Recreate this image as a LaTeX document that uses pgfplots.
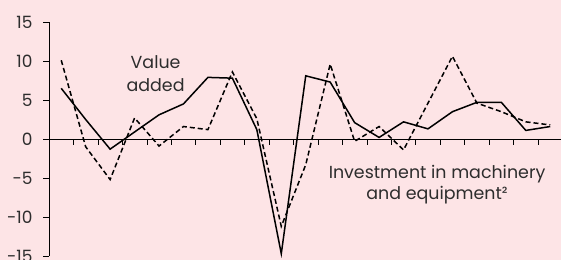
\documentclass[border=0pt]{standalone}
\usepackage{pgfplots}
\pgfplotsset{compat=1.18}
\usepackage{fontspec}
\setmainfont{Poppins}
\definecolor{bg}{RGB}{253,228,230}
\definecolor{txt}{RGB}{45,45,45}
\pgfplotstableread{
x va inv
0 6.5 10.1
1 2.5 -1.0
2 -1.3 -5.2
3 0.9 2.7
4 3.1 -0.9
5 4.5 1.6
6 7.9 1.2
7 7.8 8.6
8 1.2 2.6
9 -14.7 -11.2
10 8.1 -3.3
11 7.3 9.6
12 2.1 -0.3
13 0.2 1.6
14 2.2 -1.4
15 1.3 4.6
16 3.5 10.6
17 4.7 4.6
18 4.7 3.5
19 1.1 2.2
20 1.6 1.8
}\data
\begin{document}
\begin{tikzpicture}
\fill[bg] (0,0) rectangle (561bp,260bp);
\useasboundingbox (0,0) rectangle (561bp,260bp);
\begin{axis}[
  scale only axis,
  anchor=south west,
  at={(49bp,4bp)},
  width=512bp, height=234bp,
  xmin=-0.5, xmax=20.44,
  ymin=-15, ymax=15,
  axis y line*=left,
  axis x line*=middle,
  xtick={0.5,1.5,...,19.5},
  xticklabels={},
  ytick={-15,-10,...,15},
  tick align=outside,
  major tick length=5.5bp,
  every tick/.style={black, line width=0.6bp},
  axis line style={black, line width=0.8bp},
  /pgf/number format/assume math mode=true,
  ticklabel style={font=\fontsize{17}{19}\selectfont, text=txt},
  yticklabel style={xshift=-7.5bp},
  clip=false,
]
\addplot[black, line width=1.5bp] table[x=x, y=va] {\data};
\addplot[black, line width=1.5bp, dash pattern=on 5bp off 3bp] table[x=x, y=inv] {\data};
\node[anchor=base, text=txt, font=\fontsize{17.5}{20}\selectfont] at (axis cs:3.86,9.1) {Value};
\node[anchor=base, text=txt, font=\fontsize{17.5}{20}\selectfont] at (axis cs:3.86,6.15) {added};
\node[anchor=base, text=txt, font=\fontsize{17.5}{20}\selectfont] at (axis cs:15.37,-5.0) {Investment in machinery};
\node[anchor=base, text=txt, font=\fontsize{17.5}{20}\selectfont] at (axis cs:15.37,-7.8) {and equipment²};
\end{axis}
\end{tikzpicture}
\end{document}
